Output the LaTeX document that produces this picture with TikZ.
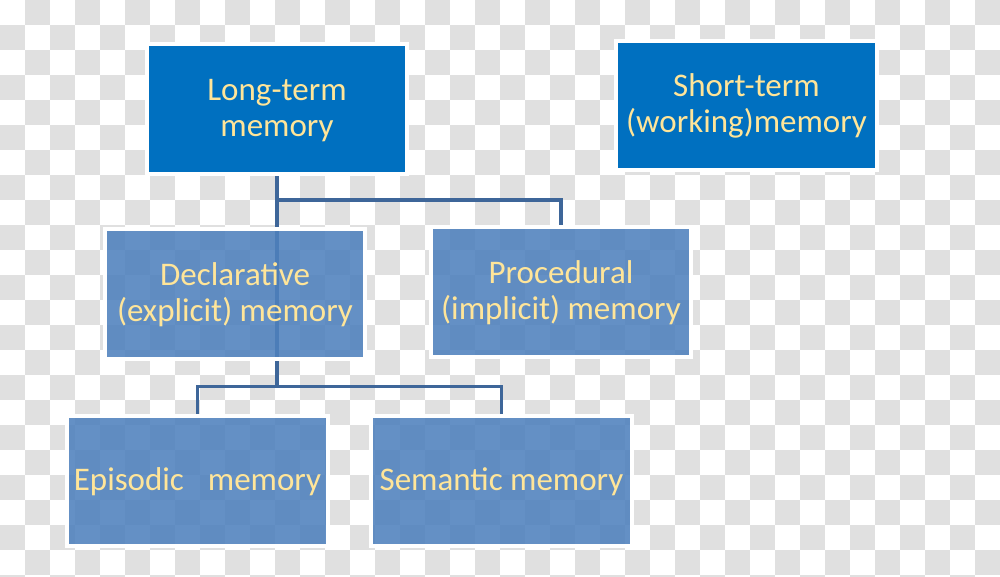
\documentclass[tikz,border=0pt]{standalone}
\usepackage{fontspec}
\setmainfont{Carlito}
\definecolor{checkgray}{HTML}{E0E0E0}
\definecolor{topblue}{HTML}{0070C0}
\definecolor{lowblue}{HTML}{4F81BD}
\definecolor{linkblue}{HTML}{3E6699}
\definecolor{txtyellow}{HTML}{FFE599}
\pgfdeclarelayer{checker}
\pgfdeclarelayer{links}
\pgfsetlayers{checker,links,main}
\tikzset{
  boxtext/.style={align=center, text=txtyellow, inner sep=0pt,
    font=\fontsize{33}{36}\selectfont},
  topbox/.style={boxtext, draw=white, line width=4pt, fill=topblue,
    minimum width=#1, minimum height=130pt},
  lowbox/.style={boxtext, draw=white, line width=4pt, fill=lowblue, fill opacity=0.88,
    text opacity=1, draw opacity=1,
    minimum width=#1, minimum height=130pt},
  link/.style={draw=linkblue, line width=3.2pt}
}
\newcommand{\dn}[1]{\raisebox{-2pt}[\height][\depth]{\begin{tabular}{@{}c@{}}#1\end{tabular}}}
\begin{document}
\begin{tikzpicture}[x=1pt,y=-1pt]
\useasboundingbox (0,0) rectangle (1000,576);
\begin{pgfonlayer}{checker}
\clip (0,0) rectangle (1000,576);
\foreach \i in {0,...,39} {
  \foreach \j in {0,...,23} {
    \pgfmathtruncatemacro\k{\i+\j}
    \ifodd\k
      \fill[checkgray] (\i*25,\j*25) rectangle ++(25,25);
    \fi
  }
}
\end{pgfonlayer}
% boxes
\node[topbox=260pt] (lt) at (277,109) {\dn{Long-term\\memory}};
\node[topbox=261pt, minimum height=129pt] (st) at (746.5,105.5) {\dn{Short-term\\(working)memory}};
\node[lowbox=260pt] (decl) at (235,294) {\dn{Declarative\\(explicit) memory}};
\node[lowbox=260pt] (proc) at (561,292) {\dn{Procedural\\(implicit) memory}};
\node[lowbox=261pt] (epi) at (197.5,481) {\dn{Episodic\hspace{24pt}memory}};
\node[lowbox=261pt] (sem) at (501.5,481) {\dn{Semantic memory}};
% connectors (behind the boxes)
\coordinate (j1) at (277,200);
\coordinate (j2) at (277,386.5);
\begin{pgfonlayer}{links}
\draw[link] (lt.south) -- (j2);
\draw[link] (j1) -| (proc.north);
\draw[link] (epi.north) |- (j2) -| (sem.north);
\end{pgfonlayer}
\end{tikzpicture}
\end{document}
